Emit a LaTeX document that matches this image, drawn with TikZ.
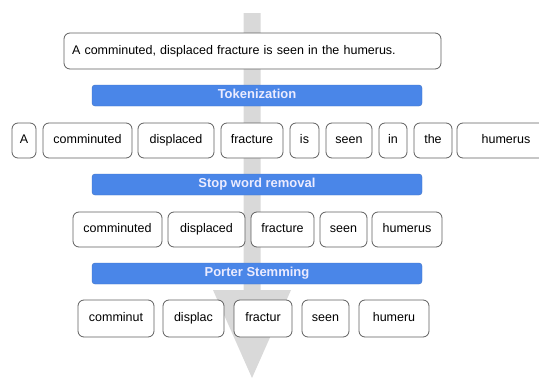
\documentclass[tikz,border=0pt]{standalone}
\usepackage{fontspec}
\setmainfont{Liberation Sans}
\usetikzlibrary{positioning}
\definecolor{barblue}{HTML}{4A86E8}
\definecolor{flowgray}{HTML}{D9D9D9}
\definecolor{boxline}{HTML}{5F5F5F}

\begin{document}
\begin{tikzpicture}[
    x=1pt, y=-1pt,
    font=\fontsize{12.5}{15}\selectfont,
    token/.style={draw=boxline, line width=0.8pt, rounded corners=6pt, fill=white, inner sep=0pt, minimum height=35pt, text height=9pt, text depth=2.5pt},
    sentbox/.style={token, minimum width=377pt, minimum height=36pt, text width=361pt, align=left},
    stepbar/.style={fill=barblue, draw=barblue!85!black, line width=0.4pt, rounded corners=3pt, minimum width=330pt, minimum height=21pt, inner sep=0pt, text height=9pt, text depth=2.5pt, text=white!92!blue, font=\fontsize{13}{15}\selectfont\bfseries}
]
\useasboundingbox (0,0) rectangle (539,378);

% Define the flow arrow
\coordinate (top) at (252,13);
\coordinate (tip) at (252,378);
\fill[flowgray] ([xshift=-8.5pt]top) -- ([xshift=-8.5pt]top |- 0,290) -- ([xshift=-39pt]tip |- 0,290)
    -- (tip) -- ([xshift=39pt]tip |- 0,290) -- ([xshift=8.5pt]top |- 0,290) -- ([xshift=8.5pt]top) -- cycle;

% Define input sentence and steps
\node[sentbox] (sent) at (252.5,51) {A comminuted, displaced fracture is seen in the humerus.};
\node[stepbar] (tok) at (257,95.5) {Tokenization};
\node[stepbar] (stop) at (257,184.5) {Stop word removal};
\node[stepbar] (stem) at (257,273.5) {Porter Stemming};

% Tokens
\foreach \n/\x/\w/\t in {1/24/24/A, 2/87.5/89/comminuted, 3/176/76/displaced, 4/252/62/fracture, 5/304.5/29/is,
    6/349/46/seen, 7/393/28/in, 8/433/38/the, 9/506/98/humerus} {
    \node[token, minimum width=\w pt] (a\n) at (\x,140.5) {\t};
}

% Tokens after stop word removal
\foreach \n/\x/\w/\t in {1/117.5/89/comminuted, 2/206.5/77/displaced, 3/282.5/63/fracture, 4/343.5/47/seen, 5/407/70/humerus} {
    \node[token, minimum width=\w pt] (b\n) at (\x,229.5) {\t};
}

% Stems
\foreach \n/\x/\w/\t in {1/116/76/comminut, 2/193.5/61/displac, 3/263/58/fractur, 4/325.5/47/seen, 5/394/70/humeru} {
    \node[token, minimum width=\w pt, minimum height=37pt] (c\n) at (\x,318.5) {\t};
}

\end{tikzpicture}
\end{document}
